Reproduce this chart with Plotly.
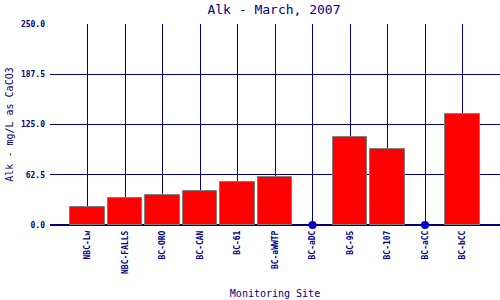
import plotly.graph_objects as go

sites = ["NBC-Lw", "NBC-FALLS", "BC-ORO", "BC-CAN", "BC-61", "BC-aWWTP",
         "BC-aDC", "BC-95", "BC-107", "BC-aCC", "BC-bCC"]
alk = [22, 33.2, 37.7, 42.7, 53.1, 60.1, None, 109, 94.1, None, 137.7]
missing_sites = ["BC-aDC", "BC-aCC"]
missing_vals = [0, 0]
yticks = [0, 62.5, 125, 187.5, 250]
yticklabels = ["0.0", "62.5", "125.0", "187.5", "250.0"]

navy = "#000080"
font = "DejaVu Sans Mono"

fig = go.Figure()
fig.add_trace(go.Bar(x=sites, y=alk, width=0.92,
                     marker=dict(color="#ff0000", line=dict(color="#808080", width=1))))
fig.add_trace(go.Scatter(x=missing_sites, y=missing_vals, mode="markers",
                         marker=dict(color="#0000cc", size=8), cliponaxis=False))
fig.update_layout(
    width=500, height=300, showlegend=False,
    margin=dict(l=50, r=0, t=24, b=75),
    plot_bgcolor="white", paper_bgcolor="white",
    title=dict(text="Alk - March, 2007", x=0.548, xanchor="center", y=0.968, yanchor="middle",
               font=dict(family=font, size=13, color=navy)),
    bargap=0,
)
fig.update_xaxes(
    categoryorder="array", categoryarray=sites, range=[-1, 11],
    showgrid=True, gridcolor=navy, gridwidth=1,
    tickangle=-90, tickfont=dict(family=font, size=8, color=navy, weight="bold"),
    showline=False, zeroline=False, ticks="", ticklabelstandoff=3,
    title=dict(text="Monitoring Site", font=dict(family=font, size=10, color=navy), standoff=17),
)
fig.update_yaxes(
    range=[0, 250], tickvals=yticks, ticktext=yticklabels,
    showgrid=True, gridcolor=navy, gridwidth=1,
    tickfont=dict(family=font, size=8, color=navy, weight="bold"),
    zeroline=True, zerolinecolor=navy, zerolinewidth=2, showline=False, ticks="",
    ticklabelstandoff=4,
    title=dict(text="Alk - mg/L as CaCO3", font=dict(family=font, size=10, color=navy), standoff=5),
)
fig.write_html("out.html")
